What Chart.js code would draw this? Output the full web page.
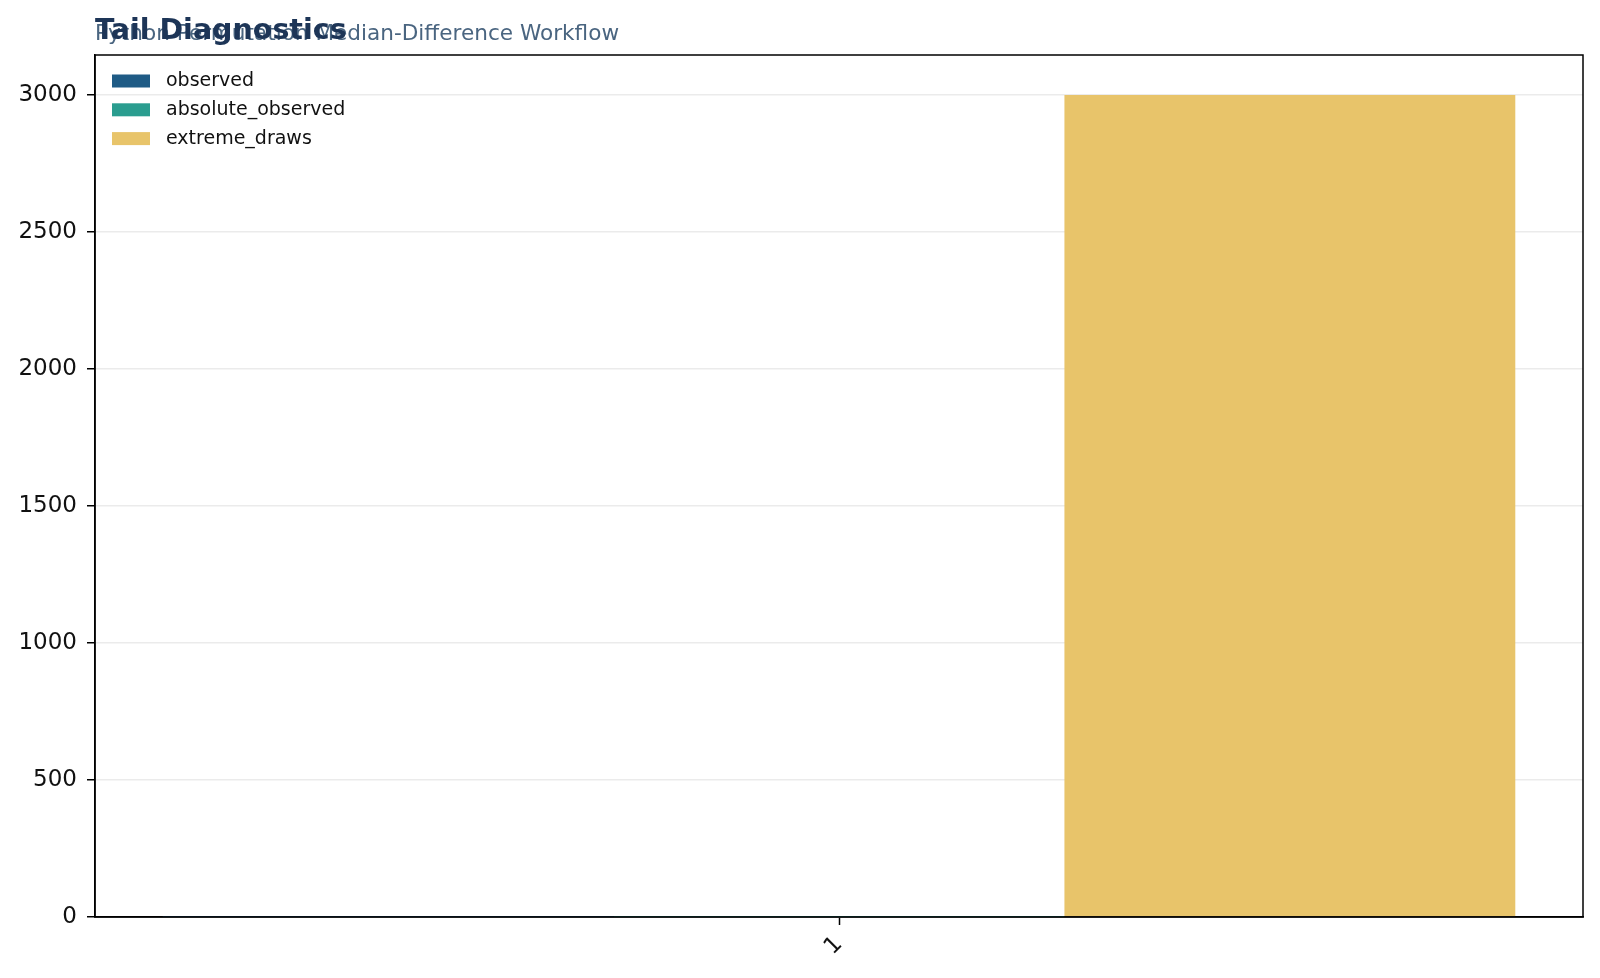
<!DOCTYPE html>
<html>
<head>
<meta charset="utf-8">
<script src="https://cdn.jsdelivr.net/npm/chart.js@4.4.1/dist/chart.umd.min.js"></script>
<style>
  html, body { margin: 0; padding: 0; background: #fff; }
  #wrap { width: 1600px; height: 978px; }
</style>
</head>
<body>
<div id="wrap"><canvas id="tail-chart" width="1600" height="978"></canvas></div>
<script>
// データ
const categories = ["1"];
const seriesNames = ["observed", "absolute_observed", "extreme_draws"];
const observedValues = [0.42];
const absoluteObservedValues = [0.42];
const extremeDrawsValues = [3000];
const yTickValues = [0, 500, 1000, 1500, 2000, 2500, 3000];

const titleText = "Tail Diagnostics";
const subtitleText = "Python Permutation Median-Difference Workflow";

// 系列の色
const seriesColors = {
  observed: "#1f5b85",
  absolute_observed: "#2a9d8f",
  extreme_draws: "#e8c46a",
};

const fontFamily = "'DejaVu Sans', sans-serif";

// タイトル・サブタイトル（重なって描かれている）
const titlePlugin = {
  id: "titles",
  afterDraw(chart) {
    const ctx = chart.ctx;
    ctx.save();
    ctx.textAlign = "left";
    ctx.textBaseline = "alphabetic";
    ctx.fillStyle = "#4a6580";
    ctx.font = `21.6px ${fontFamily}`;
    ctx.fillText(subtitleText, 95, 40);
    ctx.fillStyle = "#1d3557";
    ctx.font = `bold 28.5px ${fontFamily}`;
    ctx.fillText(titleText, 95, 39);
    ctx.restore();
  },
};

// 枠線（上・右も含めて描画）
const framePlugin = {
  id: "frame",
  afterDatasetsDraw(chart) {
    const { ctx, chartArea } = chart;
    ctx.save();
    ctx.strokeStyle = "#000";
    ctx.lineWidth = 1.5;
    ctx.strokeRect(
      chartArea.left,
      chartArea.top,
      chartArea.right - chartArea.left,
      chartArea.bottom - chartArea.top
    );
    ctx.restore();
  },
};

// 凡例（プロット内左上、枠なし）
const legendPlugin = {
  id: "insideLegend",
  afterDraw(chart) {
    const ctx = chart.ctx;
    ctx.save();
    ctx.font = `19px ${fontFamily}`;
    ctx.textBaseline = "middle";
    ctx.textAlign = "left";
    chart.data.datasets.forEach((ds, i) => {
      const cy = 81 + i * 28.8;
      ctx.fillStyle = ds.backgroundColor;
      ctx.fillRect(112, cy - 6.5, 38, 13);
      ctx.fillStyle = "#111";
      ctx.fillText(ds.label, 166, cy);
    });
    ctx.restore();
  },
};

const valuesBySeries = [observedValues, absoluteObservedValues, extremeDrawsValues];

new Chart(document.getElementById("tail-chart"), {
  type: "bar",
  data: {
    labels: categories,
    datasets: seriesNames.map((name, i) => ({
      label: name,
      data: valuesBySeries[i],
      backgroundColor: seriesColors[name],
      borderWidth: 0,
      categoryPercentage: 0.909,
      barPercentage: 1.0,
    })),
  },
  options: {
    responsive: false,
    devicePixelRatio: 1,
    animation: false,
    layout: {
      padding: { top: 55, right: 17, bottom: 0, left: 0 },
    },
    plugins: {
      legend: { display: false },
      title: { display: false },
      tooltip: { enabled: false },
    },
    scales: {
      x: {
        offset: true,
        grid: {
          offset: false,
          drawOnChartArea: false,
          drawTicks: true,
          tickLength: 8,
          tickColor: "#000",
          tickWidth: 1.5,
        },
        border: { color: "#000", width: 1.5 },
        ticks: {
          color: "#111",
          font: { family: fontFamily, size: 23 },
          minRotation: 45,
          maxRotation: 45,
          padding: 6,
        },
        afterFit(scale) {
          scale.height = 61;
        },
      },
      y: {
        min: 0,
        max: 3146,
        grid: {
          color: "#ebebeb",
          lineWidth: 1.5,
          drawTicks: true,
          tickLength: 8,
          tickColor: "#000",
          tickWidth: 1.5,
        },
        border: { color: "#000", width: 1.5 },
        ticks: {
          color: "#111",
          font: { family: fontFamily, size: 23 },
          padding: 10,
          callback: (value) => String(value),
        },
        afterBuildTicks(scale) {
          scale.ticks = yTickValues.map((v) => ({ value: v }));
        },
        afterFit(scale) {
          scale.width = 95;
        },
      },
    },
  },
  plugins: [framePlugin, legendPlugin, titlePlugin],
});
</script>
</body>
</html>
